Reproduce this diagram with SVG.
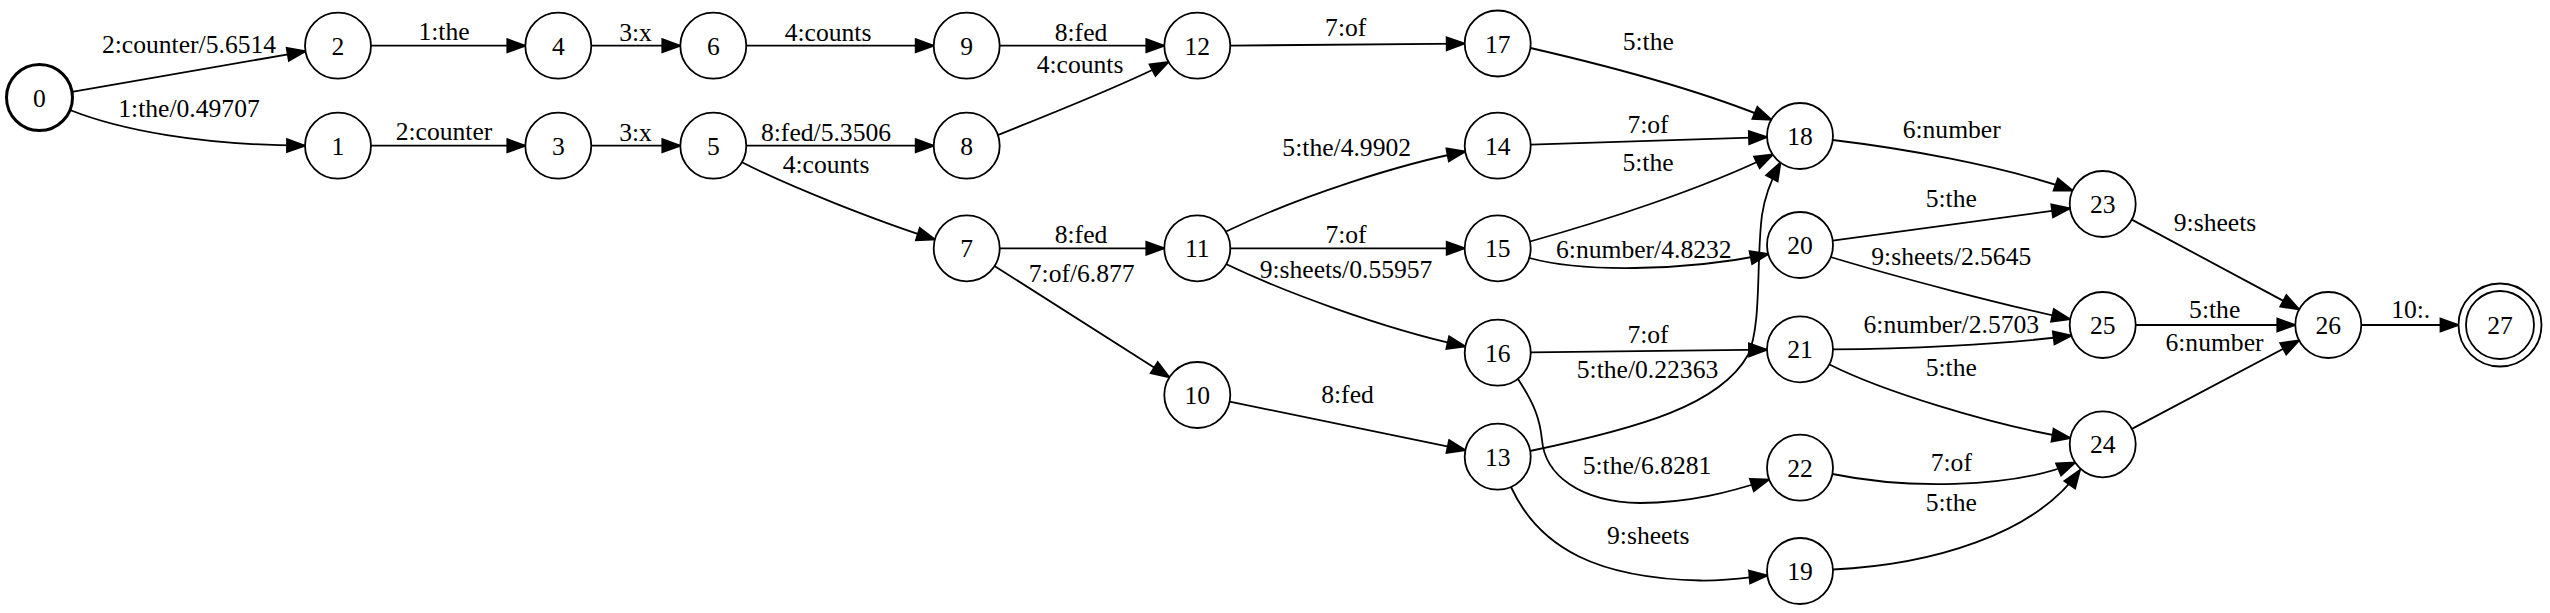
<svg xmlns="http://www.w3.org/2000/svg" width="2550" height="613" viewBox="0 0 2550 613">
<style>
.n circle{fill:#fff;stroke:#000;stroke-width:1.8}
.n circle.in{fill:none}
.n text,.lbl text{font-family:"Liberation Serif","Times New Roman","DejaVu Serif",serif;font-size:25.6px;text-anchor:middle;fill:#000}
.e path{fill:none;stroke:#000;stroke-width:1.8;marker-end:url(#ah)}
</style>
<defs>
<marker id="ah" markerUnits="userSpaceOnUse" markerWidth="24" markerHeight="18" refX="18" refY="6.5" orient="auto" overflow="visible">
<path d="M0,0 L18,6.5 L0,13 z" fill="#000" stroke="#000" stroke-width="1.8"/>
</marker>
</defs>
<rect width="2550" height="613" fill="#fff"/>
<g id="edges" class="e">
<path d="M72,91.9 L305.5,51.3"/>
<path d="M70,110 C120,130 200,145 305,145.7"/>
<path d="M371,45.7 H525.3"/>
<path d="M371,145.7 H525.3"/>
<path d="M591.3,45.7 H680.3"/>
<path d="M591.3,145.7 H680.3"/>
<path d="M746.3,45.7 H933.7"/>
<path d="M746.3,145.7 H933.7"/>
<path d="M741.5,162 C790,187 880,222 935,239.5"/>
<path d="M999.7,45.7 H1164.3"/>
<path d="M998,135 C1040,118 1120,87 1168.5,62"/>
<path d="M999.7,248.3 H1164.3"/>
<path d="M994.5,266 L1169.4,377.3"/>
<path d="M1230.3,45.6 L1464.7,43.6"/>
<path d="M1226,231.5 C1300,196 1400,164 1465.3,151.5"/>
<path d="M1230.3,248.3 H1464.7"/>
<path d="M1226,264 C1280,290 1380,328 1465.3,346.5"/>
<path d="M1229.6,401.6 L1465.4,450.1"/>
<path d="M1530.5,48 C1600,64 1700,90 1771.5,119.8"/>
<path d="M1530.7,144.6 L1767,137.1"/>
<path d="M1530,241.5 C1600,222 1700,190 1773,154.5"/>
<path d="M1529.5,258 C1580,272 1680,272 1768.5,254"/>
<path d="M1530,451 C1640,428 1720,405 1748,355 C1762,325 1756,260 1762,215 C1765,195 1771,180 1780.5,162.5"/>
<path d="M1530.7,352.3 L1767,349.7"/>
<path d="M1518,379 C1535,405 1540,420 1542,440 C1545,475 1580,502 1640,503 C1690,503 1730,492 1769,479.5"/>
<path d="M1511,487 C1540,550 1600,578 1700,580.5 C1730,581 1750,577 1767.5,575.5"/>
<path d="M1832.8,140 C1900,148 2000,165 2072.7,190.5"/>
<path d="M1832.7,240.6 L2070,208.4"/>
<path d="M1830.5,257 C1900,278 2000,304 2070,319.3"/>
<path d="M1833,349.3 C1900,349 2000,345 2071.5,335.5"/>
<path d="M1829.5,364.5 C1880,390 1990,425 2070.3,438"/>
<path d="M1832.5,474 C1900,488 2010,490 2075.2,462.5"/>
<path d="M1833,569.5 C1930,565 2035,535 2080,470"/>
<path d="M2131.8,219.6 L2299.2,309.4"/>
<path d="M2135.7,325 H2295.3"/>
<path d="M2131.9,428.9 L2299.1,340.4"/>
<path d="M2361.3,325 H2458.5"/>
</g>
<g id="edge-labels" class="lbl">
<text x="189" y="53">2:counter/5.6514</text>
<text x="189" y="117">1:the/0.49707</text>
<text x="444" y="40">1:the</text>
<text x="444" y="140">2:counter</text>
<text x="635.5" y="40.5">3:x</text>
<text x="635.5" y="140.5">3:x</text>
<text x="828" y="40.5">4:counts</text>
<text x="826" y="140.5">8:fed/5.3506</text>
<text x="826" y="173">4:counts</text>
<text x="1081" y="40.5">8:fed</text>
<text x="1080" y="72.5">4:counts</text>
<text x="1081" y="243.3">8:fed</text>
<text x="1081.7" y="281.7">7:of/6.877</text>
<text x="1345.7" y="36">7:of</text>
<text x="1346.7" y="155.7">5:the/4.9902</text>
<text x="1346" y="243.3">7:of</text>
<text x="1346" y="278.3">9:sheets/0.55957</text>
<text x="1347.5" y="402.7">8:fed</text>
<text x="1648.3" y="50">5:the</text>
<text x="1648" y="133.3">7:of</text>
<text x="1648" y="170.7">5:the</text>
<text x="1643.8" y="258.3">6:number/4.8232</text>
<text x="1648" y="342.7">7:of</text>
<text x="1647.5" y="377.7">5:the/0.22363</text>
<text x="1647" y="474.3">5:the/6.8281</text>
<text x="1648.3" y="543.7">9:sheets</text>
<text x="1951.7" y="137.7">6:number</text>
<text x="1951.3" y="206.7">5:the</text>
<text x="1951.3" y="265">9:sheets/2.5645</text>
<text x="1951.3" y="333.3">6:number/2.5703</text>
<text x="1951.3" y="376">5:the</text>
<text x="1951.3" y="471">7:of</text>
<text x="1951.3" y="511">5:the</text>
<text x="2215" y="231">9:sheets</text>
<text x="2214.7" y="317.7">5:the</text>
<text x="2214.5" y="351">6:number</text>
<text x="2410.7" y="317.7">10:.</text>
</g>
<g id="node0" class="n"><circle cx="39.5" cy="97.5" r="33" style="stroke-width:3"/><text x="39.5" y="106.5">0</text></g>
<g id="node1" class="n"><circle cx="338" cy="145.7" r="33"/><text x="338" y="154.7">1</text></g>
<g id="node2" class="n"><circle cx="338" cy="45.7" r="33"/><text x="338" y="54.7">2</text></g>
<g id="node3" class="n"><circle cx="558.3" cy="145.7" r="33"/><text x="558.3" y="154.7">3</text></g>
<g id="node4" class="n"><circle cx="558.3" cy="45.7" r="33"/><text x="558.3" y="54.7">4</text></g>
<g id="node5" class="n"><circle cx="713.3" cy="145.7" r="33"/><text x="713.3" y="154.7">5</text></g>
<g id="node6" class="n"><circle cx="713.3" cy="45.7" r="33"/><text x="713.3" y="54.7">6</text></g>
<g id="node7" class="n"><circle cx="966.7" cy="248.3" r="33"/><text x="966.7" y="257.3">7</text></g>
<g id="node8" class="n"><circle cx="966.7" cy="145.7" r="33"/><text x="966.7" y="154.7">8</text></g>
<g id="node9" class="n"><circle cx="966.7" cy="45.7" r="33"/><text x="966.7" y="54.7">9</text></g>
<g id="node10" class="n"><circle cx="1197.3" cy="395" r="33"/><text x="1197.3" y="404">10</text></g>
<g id="node11" class="n"><circle cx="1197.3" cy="248.3" r="33"/><text x="1197.3" y="257.3">11</text></g>
<g id="node12" class="n"><circle cx="1197.3" cy="45.7" r="33"/><text x="1197.3" y="54.7">12</text></g>
<g id="node13" class="n"><circle cx="1497.7" cy="456.7" r="33"/><text x="1497.7" y="465.7">13</text></g>
<g id="node14" class="n"><circle cx="1497.7" cy="145.7" r="33"/><text x="1497.7" y="154.7">14</text></g>
<g id="node15" class="n"><circle cx="1497.7" cy="248.3" r="33"/><text x="1497.7" y="257.3">15</text></g>
<g id="node16" class="n"><circle cx="1497.7" cy="352.7" r="33"/><text x="1497.7" y="361.7">16</text></g>
<g id="node17" class="n"><circle cx="1497.7" cy="43.5" r="33"/><text x="1497.7" y="52.5">17</text></g>
<g id="node18" class="n"><circle cx="1800" cy="136" r="33"/><text x="1800" y="145">18</text></g>
<g id="node19" class="n"><circle cx="1800" cy="571" r="33"/><text x="1800" y="580">19</text></g>
<g id="node20" class="n"><circle cx="1800" cy="245" r="33"/><text x="1800" y="254">20</text></g>
<g id="node21" class="n"><circle cx="1800" cy="349.3" r="33"/><text x="1800" y="358.3">21</text></g>
<g id="node22" class="n"><circle cx="1800" cy="467.7" r="33"/><text x="1800" y="476.7">22</text></g>
<g id="node23" class="n"><circle cx="2102.7" cy="204" r="33"/><text x="2102.7" y="213">23</text></g>
<g id="node24" class="n"><circle cx="2102.7" cy="444.3" r="33"/><text x="2102.7" y="453.3">24</text></g>
<g id="node25" class="n"><circle cx="2102.7" cy="325" r="33"/><text x="2102.7" y="334">25</text></g>
<g id="node26" class="n"><circle cx="2328.3" cy="325" r="33"/><text x="2328.3" y="334">26</text></g>
<g id="node27" class="n"><circle cx="2500" cy="325" r="41.5"/><circle class="in" cx="2500" cy="325" r="34"/><text x="2500" y="334">27</text></g>
</svg>
